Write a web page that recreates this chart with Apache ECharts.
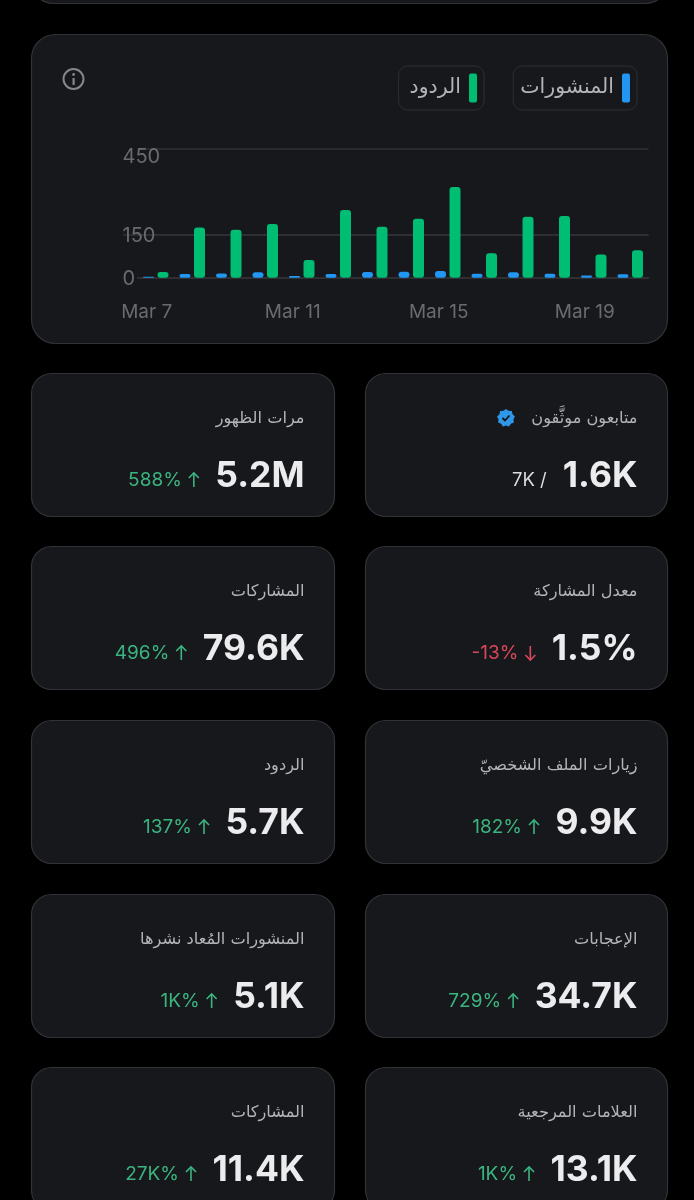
<!DOCTYPE html>
<html lang="ar"><head><meta charset="utf-8">
<style>html,body{margin:0;padding:0;background:#000}#c{width:694px;height:1200px}</style>
<script src="https://cdn.jsdelivr.net/npm/echarts@6/dist/echarts.min.js"></script>
</head><body><div id="c"></div>
<script>
const days = ['Mar 7','Mar 8','Mar 9','Mar 10','Mar 11','Mar 12','Mar 13','Mar 14','Mar 15','Mar 16','Mar 17','Mar 18','Mar 19','Mar 20'];
const posts = [3,13,15,19,6,13,20,21,23,14,19,14,8,12];
const replies = [20,175,167,187,62,236,178,206,316,85,213,215,81,96];
const yTicks = [0,150,450];
const seriesNames = ['المنشورات','الردود'];
const kpiLabels = ['متابعون موثَّقون','مرات الظهور','معدل المشاركة','المشاركات','زيارات الملف الشخصيّ','الردود','الإعجابات','المنشورات المُعاد نشرها','العلامات المرجعية','المشاركات'];
const kpiValues = ['1.6K','5.2M','1.5%','79.6K','9.9K','5.7K','34.7K','5.1K','13.1K','11.4K'];
const kpiDeltas = ['7K /','588%','-13%','496%','182%','137%','729%','1K%','1K%','27K%'];
const kpiDirs = ['none','up','down','up','up','up','up','up','up','up'];

const CARD='#17181c', BORDER='#323338', GRID='#303136', AXIS='#6a6b70', LABEL='#b4b4b8', GREEN='#3bb57f', RED='#d8475a';
const AR='"DejaVu Sans",sans-serif', NUM='Inter,sans-serif', VAL='Inter,sans-serif';
const measure=document.createElement('canvas').getContext('2d');
function w(t,font){measure.font=font;return measure.measureText(t).width;}

const g=[];
function card(x,y,wd,h,r){g.push({type:'rect',z:0,shape:{x:x+.5,y:y+.5,width:wd,height:h,r},style:{fill:CARD,stroke:BORDER,lineWidth:1.2}});}
card(31,-100,636,103,22);
card(31,34,636,309,24);
g.push({type:'circle',z:1,shape:{cx:73.5,cy:79,r:10},style:{fill:'none',stroke:'#85858a',lineWidth:2}});
g.push({type:'rect',z:1,shape:{x:72.5,y:78,width:2.2,height:7},style:{fill:'#85858a'}});
g.push({type:'circle',z:1,shape:{cx:73.6,cy:74.5,r:1.4},style:{fill:'#85858a'}});

const colX=[365,31], rowY=[373,546,720,894,1067];
kpiLabels.forEach((name,i)=>{
  const x=colX[i%2], y=rowY[Math.floor(i/2)], W=i%2?303:302, right=x+W-29.5;
  card(x,y,W,143,20);
  g.push({type:'text',z:2,style:{text:name,x:right,y:y+46,align:'right',verticalAlign:'middle',font:'16.2px '+AR,fill:LABEL}});
  const vf='bold 35.5px '+VAL;
  g.push({type:'text',z:2,style:{text:kpiValues[i],x:right,y:y+103,align:'right',verticalAlign:'middle',font:vf,fill:'#ececee'}});
  const vw=w(kpiValues[i],vf);
  const dir=kpiDirs[i];
  const left=right-vw;
  const col=dir==='down'?RED:dir==='up'?GREEN:'#dcdcde';
  let ex;
  if(dir==='up'||dir==='down'){
    const ax=left-21.5, top=y+100, bot=y+114;
    const a=dir==='up'?top:bot, s=dir==='up'?1:-1;
    g.push({type:'polyline',z:2,shape:{points:[[ax,top],[ax,bot]]},style:{stroke:col,lineWidth:1.6,fill:'none'}});
    g.push({type:'polyline',z:2,shape:{points:[[ax-5,a+5*s],[ax,a],[ax+5,a+5*s]]},style:{stroke:col,lineWidth:1.6,fill:'none'}});
    ex=ax-12;
  } else ex=left-16;
  g.push({type:'text',z:2,style:{text:kpiDeltas[i],x:ex,y:y+107,align:'right',verticalAlign:'middle',font:(dir==='none'?'18.5px ':'19px ')+NUM,fill:col}});
});
// verified badge
const pts=[];
for(let k=0;k<18;k++){const r=k%2?7.6:9.1,t=k*Math.PI/9;pts.push([506+r*Math.sin(t),418-r*Math.cos(t)]);}
g.push({type:'polygon',z:2,shape:{points:pts},style:{fill:'#2f96e8'}});
g.push({type:'polyline',z:3,shape:{points:[[502.5,418],[505,420.5],[509.5,415.5]]},style:{stroke:'#15161a',lineWidth:1.8,fill:'none'}});

const chart=echarts.init(document.getElementById('c'),null,{renderer:'canvas',width:694,height:1200});
const legendBase={orient:'horizontal',align:'right',icon:'roundRect',itemWidth:8,itemHeight:29,itemGap:6,top:66,
  borderColor:'#2d2e33',borderWidth:1,borderRadius:9,backgroundColor:CARD,selectedMode:false,
  textStyle:{color:LABEL,fontFamily:AR,fontSize:20.5,padding:[3,3,0,0]}};
const yLabel={fontFamily:NUM,fontSize:20,color:AXIS};
chart.setOption({
  backgroundColor:'#000',animation:false,
  graphic:{elements:g},
  legend:[Object.assign({},legendBase,{data:[seriesNames[0]],right:57,z:5,padding:[7.5,7,7.5,7]}),
          Object.assign({},legendBase,{data:[seriesNames[1]],right:210,z:5,padding:[7.5,7,7.5,11]})],
  grid:[{left:137.5,right:45.5,top:148.7,height:129,containLabel:false,z:5},
        {left:123,right:45.5,top:148.7,height:129,containLabel:false,z:4}],
  xAxis:[{type:'category',data:days,z:6,boundaryGap:true,
    axisLine:{show:true,lineStyle:{color:GRID,width:1.5}},axisTick:{show:false},
    axisLabel:{interval:3,color:AXIS,fontFamily:NUM,fontSize:19,margin:25,padding:[0,18,0,0],hideOverlap:false}},
    {type:'category',gridIndex:1,data:days,show:false}],
  yAxis:[
   {type:'value',min:0,max:450,z:6,
    axisLine:{show:false},
    axisTick:{show:false,customValues:yTicks},
    axisLabel:{customValues:yTicks,align:'left',margin:15,verticalAlignMaxLabel:'top',
      formatter:v=>v===450?`{t|${v}}`:`{n|${v}}`,
      rich:{t:Object.assign({lineHeight:17},yLabel),n:Object.assign({padding:[2,0,0,0]},yLabel)}},
    splitLine:{show:true,lineStyle:{color:GRID,width:1.5}}},
   {type:'value',gridIndex:1,min:0,max:450,z:4,
    axisLine:{show:false},axisLabel:{show:false},
    axisTick:{show:false,customValues:[150]},
    splitLine:{show:true,lineStyle:{color:GRID,width:1.5}}}
  ],
  series:[
    {name:seriesNames[0],type:'bar',data:posts,barWidth:11,barGap:'32%',z:7,itemStyle:{color:'#2196f3',borderRadius:3}},
    {name:seriesNames[1],type:'bar',data:replies,barWidth:11,z:7,itemStyle:{color:'#00bd74',borderRadius:3}}
  ]
});
</script></body></html>
